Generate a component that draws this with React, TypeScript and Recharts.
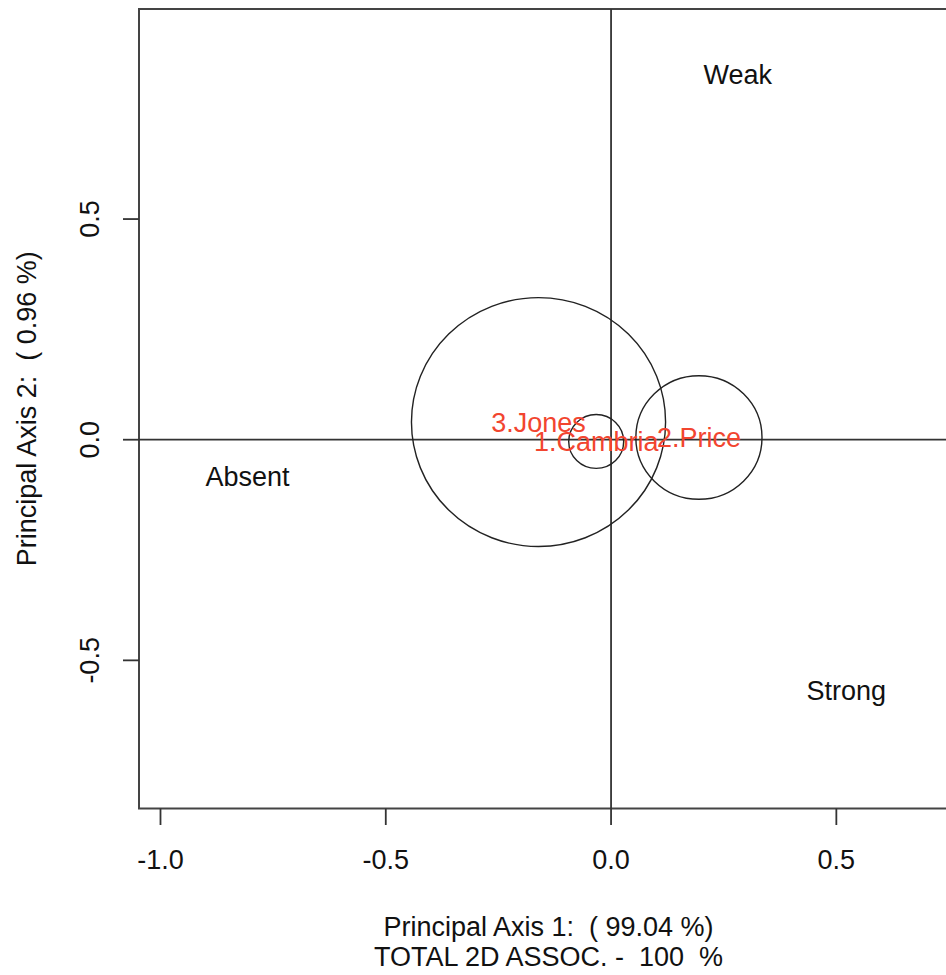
import React from "react";
import { ScatterChart, Scatter, XAxis, YAxis, ReferenceLine, ReferenceArea, Label } from "recharts";

// row profiles (bubbles) and column profiles (text points)
const rowNames = ["1.Cambria", "2.Price", "3.Jones"];
const rowX = [-0.033, 0.195, -0.161];
const rowY = [-0.004, 0.005, 0.04];
const rowRadius = [0.061, 0.14, 0.282]; // in axis units

const colNames = ["Absent", "Weak", "Strong"];
const colX = [-0.807, 0.281, 0.522];
const colY = [-0.083, 0.827, -0.569];

const xTicks = [-1.0, -0.5, 0.0, 0.5];
const yTicks = [-0.5, 0.0, 0.5];

const X_MIN = -1.0477;
const X_MAX = 0.77;
const Y_MIN = -0.8357;
const Y_MAX = 0.976;

const CHART_W = 980;
const CHART_H = 975;
const MARGIN = { top: 9, right: 22, bottom: 6.5, left: 0 };
const YAXIS_W = 139;
const XAXIS_H = 160;
const PLOT_W = CHART_W - MARGIN.left - MARGIN.right - YAXIS_W;
const PLOT_H = CHART_H - MARGIN.top - MARGIN.bottom - XAXIS_H;
const PX_X = PLOT_W / (X_MAX - X_MIN);
const PX_Y = PLOT_H / (Y_MAX - Y_MIN);

const FONT = "'Liberation Sans', Arial, Helvetica, sans-serif";
const FS = 27;
const INK = "#111";
const RED = "#f2452f";

const rows = rowNames.map((name, i) => ({ name, x: rowX[i], y: rowY[i], r: rowRadius[i] }));
const cols = colNames.map((name, i) => ({ name, x: colX[i], y: colY[i] }));

const Bubble = (p: any) => (
  <ellipse
    cx={p.cx}
    cy={p.cy}
    rx={p.payload.r * PX_X}
    ry={p.payload.r * PX_Y}
    fill="none"
    stroke="#222"
    strokeWidth={1.4}
  />
);

const textAt = (color: string) => (p: any) => (
  <text x={p.cx} y={p.cy} dy="0.35em" textAnchor="middle" fontFamily={FONT} fontSize={FS} fill={color}>
    {p.payload.name}
  </text>
);

const XTick = ({ x, y, payload }: any) => (
  <g>
    <line x1={x} y1={y} x2={x} y2={y + 16.5} stroke="#333" strokeWidth={1.8} />
    <text x={x} y={y + 51.5} dy="0.35em" textAnchor="middle" fontFamily={FONT} fontSize={FS} fill={INK}>
      {Number(payload.value).toFixed(1)}
    </text>
  </g>
);

const YTick = ({ x, y, payload }: any) => (
  <g>
    <line x1={x} y1={y} x2={x - 16} y2={y} stroke="#333" strokeWidth={1.8} />
    <text
      transform={`translate(${x - 49},${y}) rotate(-90)`}
      dy="0.35em"
      textAnchor="middle"
      fontFamily={FONT}
      fontSize={FS}
      fill={INK}
    >
      {Number(payload.value).toFixed(1)}
    </text>
  </g>
);

// titles keep their double spaces
const pre = { whiteSpace: "pre" as const };

const XTitle = ({ viewBox }: any) => {
  const cx = viewBox.x + viewBox.width / 2;
  return (
    <g>
      <text x={cx} y={viewBox.y + 127.5} textAnchor="middle" fontFamily={FONT} fontSize={FS} fill={INK} xmlSpace="preserve" style={pre}>
        {"Principal Axis 1:  ( 99.04 %)"}
      </text>
      <text x={cx} y={viewBox.y + 157.5} textAnchor="middle" fontFamily={FONT} fontSize={FS} fill={INK} xmlSpace="preserve" style={pre}>
        {"TOTAL 2D ASSOC. -  100  %"}
      </text>
    </g>
  );
};

const YTitle = ({ viewBox }: any) => {
  const cy = viewBox.y + viewBox.height / 2;
  return (
    <text
      transform={`translate(36,${cy}) rotate(-90)`}
      textAnchor="middle"
      fontFamily={FONT}
      fontSize={FS}
      fill={INK}
      xmlSpace="preserve"
      style={pre}
    >
      {"Principal Axis 2:  ( 0.96 %)"}
    </text>
  );
};

export default function App() {
  return (
    <div style={{ position: "absolute", left: 0, top: 0, width: 946, height: 975, overflow: "hidden", background: "#fff" }}>
      <ScatterChart width={CHART_W} height={CHART_H} margin={MARGIN}>
        <XAxis
          type="number"
          dataKey="x"
          domain={[X_MIN, X_MAX]}
          ticks={xTicks}
          interval={0}
          height={XAXIS_H}
          axisLine={false}
          tickLine={false}
          tickSize={0}
          tickMargin={0}
          tick={<XTick />}
          allowDataOverflow
        >
          <Label content={<XTitle />} />
        </XAxis>
        <YAxis
          type="number"
          dataKey="y"
          domain={[Y_MIN, Y_MAX]}
          ticks={yTicks}
          interval={0}
          width={YAXIS_W}
          axisLine={false}
          tickLine={false}
          tickSize={0}
          tickMargin={0}
          tick={<YTick />}
          allowDataOverflow
        >
          <Label content={<YTitle />} />
        </YAxis>
        <ReferenceArea x1={X_MIN} x2={X_MAX} y1={Y_MIN} y2={Y_MAX} fill="none" fillOpacity={0} stroke="#444" strokeWidth={2} />
        <ReferenceLine x={0} stroke="#333" strokeWidth={1.8} />
        <ReferenceLine y={0} stroke="#333" strokeWidth={1.8} />
        <Scatter data={rows} shape={Bubble} isAnimationActive={false} />
        <Scatter data={rows} shape={textAt(RED)} isAnimationActive={false} />
        <Scatter data={cols} shape={textAt(INK)} isAnimationActive={false} />
      </ScatterChart>
    </div>
  );
}
